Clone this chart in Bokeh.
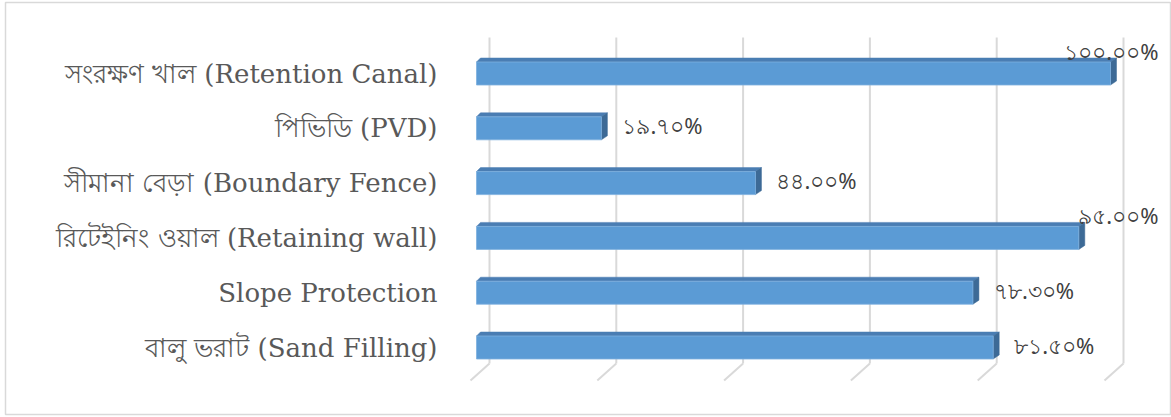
from bokeh.plotting import figure
from bokeh.models import Range1d, ColumnDataSource
from bokeh.core.properties import value
from bokeh.embed import file_html
from bokeh.resources import INLINE

# ---- data ----
categories = [
    "সংরক্ষণ খাল (Retention Canal)",
    "পিভিডি (PVD)",
    "সীমানা বেড়া (Boundary Fence)",
    "রিটেইনিং ওয়াল (Retaining wall)",
    "Slope Protection",
    "বালু ভরাট (Sand Filling)",
]
values = [100.0, 19.7, 44.0, 95.0, 78.3, 81.5]
value_labels = ["১০০.০০%", "১৯.৭০%", "৪৪.০০%", "৯৫.০০%", "৭৮.৩০%", "৮১.৫০%"]
grid_ticks = [0, 20, 40, 60, 80, 100]

# ---- geometry (pixel based scale) ----
PX_PER_UNIT = 6.34          # pixels per percent
PX_PER_ROW = 54.8
X0_PX = 476 - 5             # px of value 0 inside frame
Y0_PX = 73 - 2              # px of first row centre inside frame
FW, FH = 1166, 412

x_start = -X0_PX / PX_PER_UNIT
x_end = (FW - X0_PX) / PX_PER_UNIT
y_top = -Y0_PX / PX_PER_ROW
y_bot = (FH - Y0_PX) / PX_PER_ROW

def dx(px):
    return px / PX_PER_UNIT

def dy(px):
    return px / PX_PER_ROW

p = figure(width=1171, height=417, output_backend="svg", toolbar_location=None,
           x_range=Range1d(x_start, x_end), y_range=Range1d(y_bot, y_top),
           min_border_left=5, min_border_top=2, min_border_bottom=3, min_border_right=0,
           x_axis_location=None, y_axis_location=None)
p.grid.visible = False
p.outline_line_color = "#d9d9d9"
p.outline_line_width = 1.5
p.background_fill_color = "white"
p.border_fill_color = "white"

idx = list(range(len(categories)))

# back-wall gridlines and floor ticks
back_off = dx(13)
g_top = dy(37 - 73)
g_bot = dy(363 - 73)
p.segment(x0=[t + back_off for t in grid_ticks], y0=[g_top] * len(grid_ticks),
          x1=[t + back_off for t in grid_ticks], y1=[g_bot] * len(grid_ticks),
          line_color="#d9d9d9", line_width=2)
p.segment(x0=[t + back_off for t in grid_ticks], y0=[g_bot] * len(grid_ticks),
          x1=[t + back_off - dx(19) for t in grid_ticks], y1=[g_bot + dy(17)] * len(grid_ticks),
          line_color="#d9d9d9", line_width=2)

# 3D bars
h = dy(23)
ox, oy = dx(6), dy(-4)
bev = dx(4)
top_xs, top_ys, side_xs, side_ys = [], [], [], []
for i, v in zip(idx, values):
    t = i - h / 2
    b = i + h / 2
    top_xs.append([0, v, v + ox, bev])
    top_ys.append([t, t, t + oy, t + oy])
    side_xs.append([v, v + ox, v + ox, v])
    side_ys.append([t, t + oy, b + oy, b])

p.patches(xs=top_xs, ys=top_ys, fill_color="#4a7db3", line_color="#4a7db3", line_width=0.5)
p.patches(xs=side_xs, ys=side_ys, fill_color="#3d6a96", line_color="#3d6a96", line_width=0.5)
p.hbar(y=idx, left=0, right=values, height=h, fill_color="#5b9bd5",
       line_color="#7eb0de", line_width=0.8)

# category labels
p.text(x=[dx(437 - 476)] * len(categories), y=idx, text=categories,
       text_align="right", text_baseline="middle", text_font=value("DejaVu Serif"),
       text_font_size="26px", text_color="#595959")

# value labels
lx, ly, la = [], [], []
for i, v in zip(idx, values):
    if v > 90:
        lx.append(dx(1158 - 476))
        ly.append(i - dy(23))
        la.append("right")
    else:
        lx.append(v + dx(21))
        ly.append(i - dy(3))
        la.append("left")
src = ColumnDataSource(dict(x=lx, y=ly, t=value_labels, a=la))
p.text(x="x", y="y", text="t", text_align="a", source=src, text_baseline="middle",
       text_font=value("Noto Sans"), text_font_size="22px", text_color="#404040")

open("out.html", "w").write(file_html(p, INLINE))
